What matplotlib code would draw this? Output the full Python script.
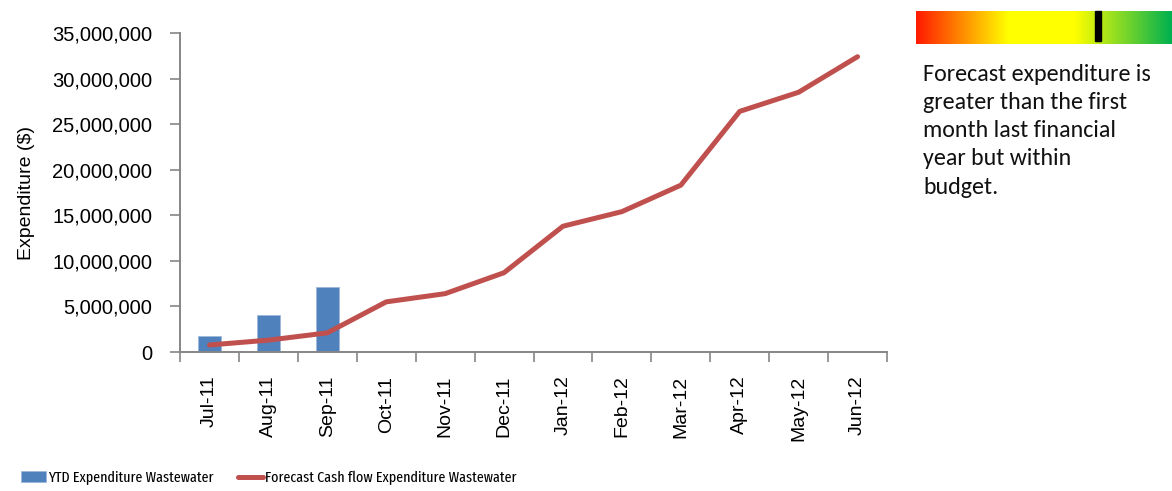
import matplotlib
matplotlib.use("Agg")
import matplotlib.pyplot as plt
import numpy as np
from matplotlib.colors import LinearSegmentedColormap
from matplotlib.ticker import FuncFormatter
from matplotlib.patches import Rectangle

months = ["Jul-11", "Aug-11", "Sep-11", "Oct-11", "Nov-11", "Dec-11",
          "Jan-12", "Feb-12", "Mar-12", "Apr-12", "May-12", "Jun-12"]
ytd_expenditure = [1.76e6, 4.06e6, 7.13e6]
forecast_cashflow = [0.77e6, 1.3e6, 2.1e6, 5.5e6, 6.4e6, 8.7e6,
                     13.8e6, 15.4e6, 18.3e6, 26.4e6, 28.5e6, 32.4e6]
yticks = [0, 5e6, 10e6, 15e6, 20e6, 25e6, 30e6, 35e6]
note_text = ("Forecast expenditure is\ngreater than the first\n"
             "month last financial\nyear but within\nbudget.")
indicator_position = 0.70

W, H = 1172, 491
fig = plt.figure(figsize=(W / 100, H / 100), dpi=100)
ax = fig.add_axes([180 / W, 1 - 352 / H, 707 / W, 319 / H])

font = ["Liberation Sans", "DejaVu Sans"]
gray = "#868686"

x = np.arange(len(months))
bars = ax.bar(x[:len(ytd_expenditure)], ytd_expenditure, width=0.4,
              color="#4F81BD", edgecolor="#9DB9DC", linewidth=0.6,
              label="YTD Expenditure Wastewater", zorder=2)
line, = ax.plot(x, forecast_cashflow, color="#C0504D", linewidth=3.6,
                solid_capstyle="round", solid_joinstyle="round",
                label="Forecast Cash flow Expenditure Wastewater", zorder=3)

ax.set_xlim(-0.5, len(months) - 0.5)
ax.set_ylim(0, 35e6)
ax.set_yticks(yticks)
ax.yaxis.set_major_formatter(FuncFormatter(lambda v, p: f"{int(v):,}"))
ax.set_xticks(x)
ax.set_xticklabels(months, rotation=90, fontsize=14, family=font)
ax.set_xticks(np.arange(-0.5, len(months)), minor=True)
ax.tick_params(axis="x", which="major", length=0, pad=17)
ax.tick_params(axis="x", which="minor", length=7, color=gray, width=1.2)
ax.tick_params(axis="y", length=7, color=gray, width=1.2, labelsize=14.5, pad=13)
for lab in ax.get_yticklabels():
    lab.set_family(font)
for s in ["top", "right"]:
    ax.spines[s].set_visible(False)
for s in ["left", "bottom"]:
    ax.spines[s].set_color(gray)
    ax.spines[s].set_linewidth(1.4)
ax.set_ylabel("Expenditure ($)", fontsize=14, family=font, labelpad=12)

leg_prop = {"family": ["Fira Sans Extra Condensed", "Liberation Sans"], "size": 11}
leg_kw = dict(loc="center left", frameon=False, handleheight=0.75,
              handletextpad=0.14, borderpad=0, borderaxespad=0, prop=leg_prop)
leg1 = fig.legend(handles=[bars], bbox_to_anchor=(21 / W, 1 - 478 / H),
                  handlelength=1.65, **leg_kw)
leg2 = fig.legend(handles=[line], bbox_to_anchor=(238 / W, 1 - 478 / H),
                  handlelength=1.65, **leg_kw)

# gradient indicator
gax = fig.add_axes([916 / W, 1 - 44 / H, 256 / W, 33 / H])
cmap = LinearSegmentedColormap.from_list(
    "rag", [(0.0, "#FF1A00"), (0.18, "#FF8C00"), (0.36, "#FFFF00"),
            (0.62, "#FFFF00"), (1.0, "#00B050")])
gax.imshow(np.linspace(0, 1, 256)[None, :], aspect="auto", cmap=cmap,
           extent=[0, 1, 0, 1])
gax.add_patch(Rectangle((indicator_position, 0.08), 0.024, 0.92,
                        color="black", clip_on=False))
gax.set_xlim(0, 1)
gax.set_ylim(0, 1)
gax.axis("off")

fig.text(923 / W, 1 - 64 / H, note_text, fontsize=17.3, family=["Carlito", "DejaVu Sans"],
         va="top", ha="left", linespacing=1.42, color="#111111")

fig.savefig("out.png", dpi=100)
